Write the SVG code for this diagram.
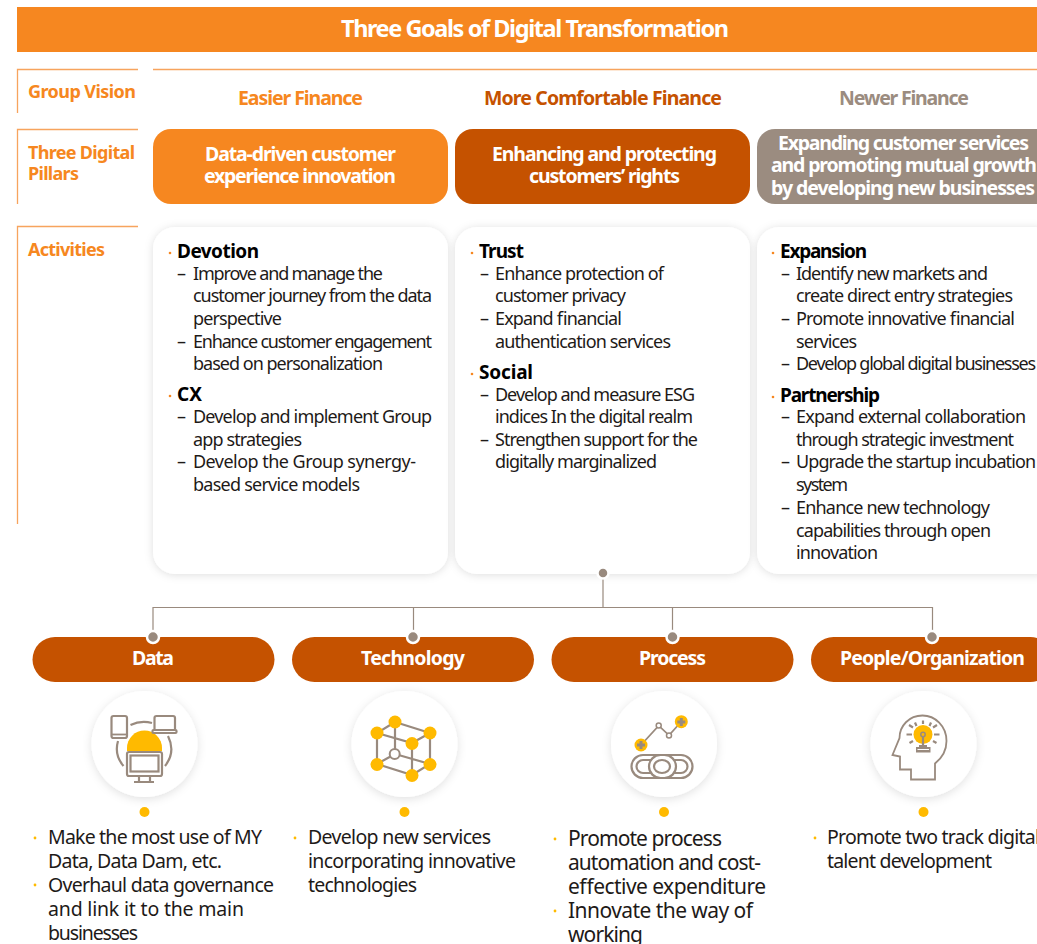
<svg xmlns="http://www.w3.org/2000/svg" width="1037" height="944" viewBox="0 0 1037 944">
<defs>
<filter id="sh" x="-20%" y="-20%" width="140%" height="140%"><feDropShadow dx="0" dy="1" stdDeviation="4" flood-color="#000" flood-opacity="0.13"/></filter>
<filter id="sh2" x="-30%" y="-30%" width="160%" height="160%"><feDropShadow dx="0" dy="2" stdDeviation="5" flood-color="#000" flood-opacity="0.12"/></filter>
</defs>
<style>
text{font-family:"Noto Sans","Open Sans","Liberation Sans",sans-serif}
.b{font-size:18px;fill:#1e1a18}
.s{font-size:19.500px;fill:#1e1a18}
.p{font-size:21px;fill:#1e1a18}
.h{font-size:19px;font-weight:700;fill:#000}
.l{font-size:18px;font-weight:700;fill:#f68720}
.v{font-size:19.500px;font-weight:700}
.w{font-size:19.500px;font-weight:700;fill:#fff}
.d{font-size:18px;fill:#1e1a18}
.g{fill:none;stroke:#998a7e;stroke-width:1.800}
.g2{fill:none;stroke:#998a7e;stroke-width:2.200}
.y{fill:#ffba00}
.o{fill:#f68720}
.ln{fill:none;stroke:#f7a45e;stroke-width:1.300}
.cn{fill:none;stroke:#998a7e;stroke-width:1.200}
.dot{fill:#998a7e;stroke:#fff;stroke-width:2.500}
</style>
<g id="title"><rect x="17" y="7" width="1020" height="45" fill="#f68720"/>
<text x="341" y="37" font-size="23.500" font-weight="700" fill="#fff" textLength="388">Three Goals of Digital Transformation</text></g>

<g id="row-labels">
<path class="ln" d="M17.500 113V69.500H138M153 69.500H1037M17.500 204V129.500H138M17.500 524V226.500H138"/>
<text class="l" x="28" y="98" textLength="108">Group Vision</text>
<text class="l" x="28" y="159" textLength="107">Three Digital</text>
<text class="l" x="28" y="180" textLength="51">Pillars</text>
<text class="l" x="28" y="256" textLength="77">Activities</text>
</g>

<g id="vision">
<text class="v" x="238" y="105" fill="#f68720" textLength="125">Easier Finance</text>
<text class="v" x="484" y="105" fill="#c55200" textLength="238">More Comfortable Finance</text>
<text class="v" x="839" y="105" fill="#9b8c80" textLength="130">Newer Finance</text>
</g>

<g id="pillar-1"><rect x="153" y="129" width="295" height="75" rx="18" fill="#f68720"/>
<text class="w" x="205" y="161" textLength="191">Data-driven customer</text>
<text class="w" x="204" y="183" textLength="192">experience innovation</text></g>
<g id="pillar-2"><rect x="455" y="129" width="295" height="75" rx="18" fill="#c55200"/>
<text class="w" x="492" y="161" textLength="225">Enhancing and protecting</text>
<text class="w" x="529" y="183" textLength="151">customers’ rights</text></g>
<g id="pillar-3"><rect x="757" y="129" width="300" height="75" rx="18" fill="#9b8c80"/>
<text class="w" x="778" y="150" textLength="251">Expanding customer services</text>
<text class="w" x="771" y="172" textLength="266">and promoting mutual growth</text>
<text class="w" x="771" y="195" textLength="264">by developing new businesses</text></g>

<g id="card-1"><rect x="153" y="227" width="295" height="347" rx="22" fill="#fff" filter="url(#sh)"/>
<circle class="o" cx="170" cy="253" r="1.300"/><circle class="o" cx="170" cy="396" r="1.300"/>
<text class="h" x="177" y="258" textLength="82">Devotion</text>
<text class="d" x="177" y="280">–</text><text class="b" x="193" y="280" textLength="190">Improve and manage the</text>
<text class="b" x="193" y="302" textLength="239">customer journey from the data</text>
<text class="b" x="193" y="325" textLength="89">perspective</text>
<text class="d" x="177" y="348">–</text><text class="b" x="193" y="348" textLength="239">Enhance customer engagement</text>
<text class="b" x="193" y="370" textLength="190">based on personalization</text>
<text class="h" x="177" y="401" textLength="25">CX</text>
<text class="d" x="177" y="423">–</text><text class="b" x="193" y="423" textLength="239">Develop and implement Group</text>
<text class="b" x="193" y="446" textLength="109">app strategies</text>
<text class="d" x="177" y="468">–</text><text class="b" x="193" y="468" textLength="223">Develop the Group synergy-</text>
<text class="b" x="193" y="491" textLength="167">based service models</text></g>

<g id="card-2"><rect x="455" y="227" width="295" height="347" rx="22" fill="#fff" filter="url(#sh)"/>
<circle class="o" cx="472" cy="253" r="1.300"/><circle class="o" cx="472" cy="374" r="1.300"/>
<text class="h" x="479" y="258" textLength="45">Trust</text>
<text class="d" x="480" y="280">–</text><text class="b" x="495" y="280" textLength="169">Enhance protection of</text>
<text class="b" x="495" y="302" textLength="131">customer privacy</text>
<text class="d" x="480" y="325">–</text><text class="b" x="495" y="325" textLength="127">Expand financial</text>
<text class="b" x="495" y="348" textLength="176">authentication services</text>
<text class="h" x="479" y="379" textLength="54">Social</text>
<text class="d" x="480" y="401">–</text><text class="b" x="495" y="401" textLength="200">Develop and measure ESG</text>
<text class="b" x="495" y="423" textLength="198">indices In the digital realm</text>
<text class="d" x="480" y="446">–</text><text class="b" x="495" y="446" textLength="203">Strengthen support for the</text>
<text class="b" x="495" y="468" textLength="162">digitally marginalized</text></g>

<g id="card-3"><rect x="757" y="227" width="300" height="347" rx="22" fill="#fff" filter="url(#sh)"/>
<circle class="o" cx="773" cy="253" r="1.300"/><circle class="o" cx="773" cy="397" r="1.300"/>
<text class="h" x="780" y="258" textLength="87">Expansion</text>
<text class="d" x="781" y="280">–</text><text class="b" x="796" y="280" textLength="192">Identify new markets and</text>
<text class="b" x="796" y="302" textLength="217">create direct entry strategies</text>
<text class="d" x="781" y="325">–</text><text class="b" x="796" y="325" textLength="219">Promote innovative financial</text>
<text class="b" x="796" y="348" textLength="61">services</text>
<text class="d" x="781" y="370">–</text><text class="b" x="796" y="370" textLength="240">Develop global digital businesses</text>
<text class="h" x="780" y="402" textLength="100">Partnership</text>
<text class="d" x="781" y="423">–</text><text class="b" x="796" y="423" textLength="230">Expand external collaboration</text>
<text class="b" x="796" y="446" textLength="218">through strategic investment</text>
<text class="d" x="781" y="468">–</text><text class="b" x="796" y="468" textLength="240">Upgrade the startup incubation</text>
<text class="b" x="796" y="491" textLength="52">system</text>
<text class="d" x="781" y="514">–</text><text class="b" x="796" y="514" textLength="194">Enhance new technology</text>
<text class="b" x="796" y="537" textLength="195">capabilities through open</text>
<text class="b" x="796" y="559" textLength="82">innovation</text></g>

<g id="pill-data"><rect x="32.500" y="637" width="242" height="45" rx="22.500" fill="#c55200"/><text class="w" x="132" y="665" textLength="42">Data</text></g>
<g id="pill-technology"><rect x="292" y="637" width="242" height="45" rx="22.500" fill="#c55200"/><text class="w" x="361" y="665" textLength="104">Technology</text></g>
<g id="pill-process"><rect x="551.500" y="637" width="242" height="45" rx="22.500" fill="#c55200"/><text class="w" x="639" y="665" textLength="67">Process</text></g>
<g id="pill-people"><rect x="811" y="637" width="242" height="45" rx="22.500" fill="#c55200"/><text class="w" x="840" y="665" textLength="185">People/Organization</text></g>

<g id="connectors">
<path class="cn" d="M603 573V607M153 637V607.500H932.500V637M413.500 607V637M672.500 607V637"/>
<circle class="dot" cx="603" cy="573" r="5.500"/>
<circle class="dot" cx="153" cy="637" r="6"/>
<circle class="dot" cx="413" cy="637" r="6"/>
<circle class="dot" cx="672.500" cy="637" r="6"/>
<circle class="dot" cx="932" cy="637" r="6"/>
</g>

<g id="icon-data"><circle cx="144.500" cy="744" r="53" fill="#fff" filter="url(#sh2)"/>
<path class="y" d="M127 751V748A17.500 17.500 0 0 1 162 748V751Z"/>
<rect class="g2" x="111.500" y="716" width="15.500" height="22" rx="2"/><path class="g" d="M112 734.500H127"/>
<path class="g2" d="M154.500 729V718q0-2 2-2H173q2 0 2 2V729"/><rect class="g2" x="152.500" y="730" width="24" height="3" rx="1"/>
<rect class="g2" x="127" y="752" width="35" height="24" rx="2"/><rect class="g2" x="130.500" y="755.500" width="28" height="16"/>
<path class="g2" d="M139 776V781M150 776V781M134 782H154"/>
<path class="g2" d="M130.500 725Q141 720 152 723M118 741Q114 755 123.500 766M168 736Q176 752 165 766"/></g>

<g id="icon-technology"><circle cx="404.500" cy="744" r="53" fill="#fff" filter="url(#sh2)"/>
<path class="g2" d="M395 722L377 733V764L395 754M395 722L430 733V764L412 775L377 764M395 722V754L430 764M377 733L412 743L430 733M412 743V775"/>
<circle cx="394.700" cy="754" r="5" fill="#fff" stroke="#998a7e" stroke-width="2"/>
<g class="y"><circle cx="395" cy="722" r="6.500"/><circle cx="377" cy="733" r="6.500"/><circle cx="430" cy="733" r="6.500"/><circle cx="412" cy="743.500" r="6.500"/><circle cx="377" cy="764.500" r="6.500"/><circle cx="430" cy="764.500" r="6.500"/><circle cx="412" cy="775.500" r="6.500"/></g></g>

<g id="icon-process"><circle cx="664" cy="744" r="53" fill="#fff" filter="url(#sh2)"/>
<path class="g" d="M641 745L658.700 725.700L669 735.300L681 722"/>
<circle cx="658.700" cy="725.500" r="2.500" fill="#fff" stroke="#998a7e" stroke-width="1.500"/><circle cx="669" cy="735.500" r="2.500" fill="#fff" stroke="#998a7e" stroke-width="1.500"/>
<circle class="y" cx="641" cy="745" r="6.500"/><circle class="y" cx="681.300" cy="721.700" r="6.500"/>
<path d="M639.500 741h3v2.500h2.500v3h-2.500v2.500h-3v-2.500h-2.500v-3h2.500zM679.800 718h3v2.500h2.500v3h-2.500v2.500h-3v-2.500h-2.500v-3h2.500z" fill="#998a7e"/>
<rect class="g2" x="631.500" y="755" width="61" height="23" rx="11.500"/>
<rect class="g2" x="636.500" y="760" width="26" height="13" rx="6.500"/>
<rect class="g2" x="661.500" y="760" width="26" height="13" rx="6.500"/>
<rect x="649" y="755" width="27" height="23" rx="11.500" fill="#fff" stroke="#998a7e" stroke-width="2.200"/>
<ellipse class="g2" cx="662" cy="766.500" rx="8" ry="6.500"/></g>

<g id="icon-people"><circle cx="923.500" cy="744" r="53" fill="#fff" filter="url(#sh2)"/>
<path class="g" d="M911 779.500H935V763.500C942 758 946.500 751 946.500 741C946.500 726 935 715.500 922.500 715.500C909 715.500 899.500 726 899.500 738L892.500 755L900 756.500V769.500H911Z"/>
<circle class="y" cx="923" cy="734.500" r="9.500"/>
<path class="g2" d="M923 737V745M906.500 734.500H912M934 734.500H939.500M915 722.500L916.500 726M923 720.500V724M931 722.500L929.500 726M909 725L913 727.500M937 725L933 727.500M909.500 743L913 741M936.500 743L933 741"/>
<circle cx="923" cy="734.500" r="2.200" fill="#ffba00" stroke="#998a7e" stroke-width="1.500"/>
<path d="M919 745H927V747H930.500V752.500H916V747H919Z" fill="#998a7e"/><path d="M917.500 749.500H929" stroke="#fff" stroke-width="1"/></g>

<g id="yellow-dots" class="y"><circle cx="144.500" cy="812" r="5"/><circle cx="404.500" cy="812" r="5"/><circle cx="664" cy="812" r="5"/><circle cx="923.500" cy="812" r="5"/></g>

<g id="list-data"><circle class="y" cx="35" cy="838" r="1.400"/><circle class="y" cx="35" cy="885" r="1.400"/>
<text class="s" x="48" y="844" textLength="214">Make the most use of MY</text>
<text class="s" x="48" y="868" textLength="174">Data, Data Dam, etc.</text>
<text class="s" x="48" y="892" textLength="226">Overhaul data governance</text>
<text class="s" x="48" y="916" textLength="196">and link it to the main</text>
<text class="s" x="48" y="940" textLength="90">businesses</text></g>
<g id="list-technology"><circle class="y" cx="295" cy="838" r="1.400"/>
<text class="s" x="308" y="844" textLength="183">Develop new services</text>
<text class="s" x="308" y="868" textLength="208">incorporating innovative</text>
<text class="s" x="308" y="892" textLength="109">technologies</text></g>
<g id="list-process"><circle class="y" cx="555" cy="839" r="1.400"/><circle class="y" cx="555" cy="911" r="1.400"/>
<text class="p" x="568" y="846" textLength="154">Promote process</text>
<text class="p" x="568" y="870" textLength="193">automation and cost-</text>
<text class="p" x="568" y="894" textLength="198">effective expenditure</text>
<text class="p" x="568" y="918" textLength="185">Innovate the way of</text>
<text class="p" x="568" y="942" textLength="75">working</text></g>
<g id="list-people"><circle class="y" cx="815" cy="838" r="1.400"/>
<text class="s" x="827" y="844" textLength="213">Promote two track digital</text>
<text class="s" x="827" y="868" textLength="165">talent development</text></g>
</svg>
